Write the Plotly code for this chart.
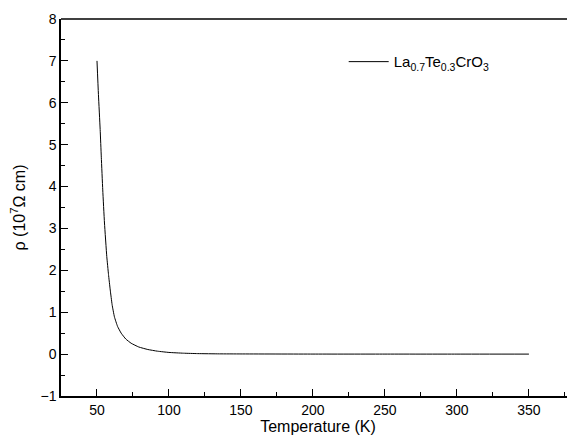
import plotly.graph_objects as go

temperature = [50, 51, 52.2, 53, 54, 55.2, 56.8, 58, 59.2, 60.5, 62.1, 64.3, 66.8, 70, 73.7, 79, 85.3, 92, 100, 110, 120, 135, 150, 200, 250, 300, 350]
resistivity = [7.0, 6.2, 5.36, 4.7, 3.92, 3.13, 2.33, 1.90, 1.53, 1.18, 0.89, 0.66, 0.50, 0.36, 0.26, 0.17, 0.11, 0.07, 0.04, 0.022, 0.012, 0.006, 0.004, 0.001, 0.0005, 0.0003, 0.0002]
series_name = "La<sub>0.7</sub>Te<sub>0.3</sub>CrO<sub>3</sub>"

fig = go.Figure()
fig.add_trace(go.Scatter(x=temperature, y=resistivity, mode="lines",
                         line=dict(color="black", width=1, shape="spline", smoothing=0.4),
                         name=series_name, showlegend=True))

axis_common = dict(showline=True, linecolor="black", linewidth=1.5, mirror=False,
                   ticks="inside", ticklen=7, tickwidth=1.2, tickcolor="black",
                   showgrid=False, zeroline=False, automargin=False,
                   tickfont=dict(family="Liberation Sans, Arial", size=14, color="black"))

# page body has an 8px default margin, so the figure is sized and offset to compensate
fig.update_layout(
    width=567, height=430,
    margin=dict(l=53, r=0, t=11, b=42),
    plot_bgcolor="white", paper_bgcolor="white",
    font=dict(family="Liberation Sans, Arial", color="black"),
    xaxis=dict(range=[25, 382], tickvals=[50, 100, 150, 200, 250, 300, 350],
               minor=dict(ticks="inside", ticklen=4, tickwidth=1.2, tickcolor="black", dtick=25, tick0=25),
               title=dict(text="Temperature (K)", font=dict(size=16), standoff=0),
               **axis_common),
    yaxis=dict(range=[-1, 8], dtick=1, tick0=0,
               minor=dict(ticks="inside", ticklen=4, tickwidth=1.2, tickcolor="black", dtick=0.5, tick0=0),
               title=dict(text="ρ (10<sup>7</sup>Ω cm)", font=dict(size=16), standoff=20),
               **axis_common),
    legend=dict(x=0.55, y=0.93, xanchor="left", yanchor="top", bgcolor="rgba(0,0,0,0)",
                font=dict(size=15), itemwidth=40, tracegroupgap=0),
)
fig.add_shape(type="line", xref="paper", yref="paper", x0=0, x1=1, y0=1, y1=1,
              line=dict(color="black", width=1.5))

fig.write_html("out.html")
